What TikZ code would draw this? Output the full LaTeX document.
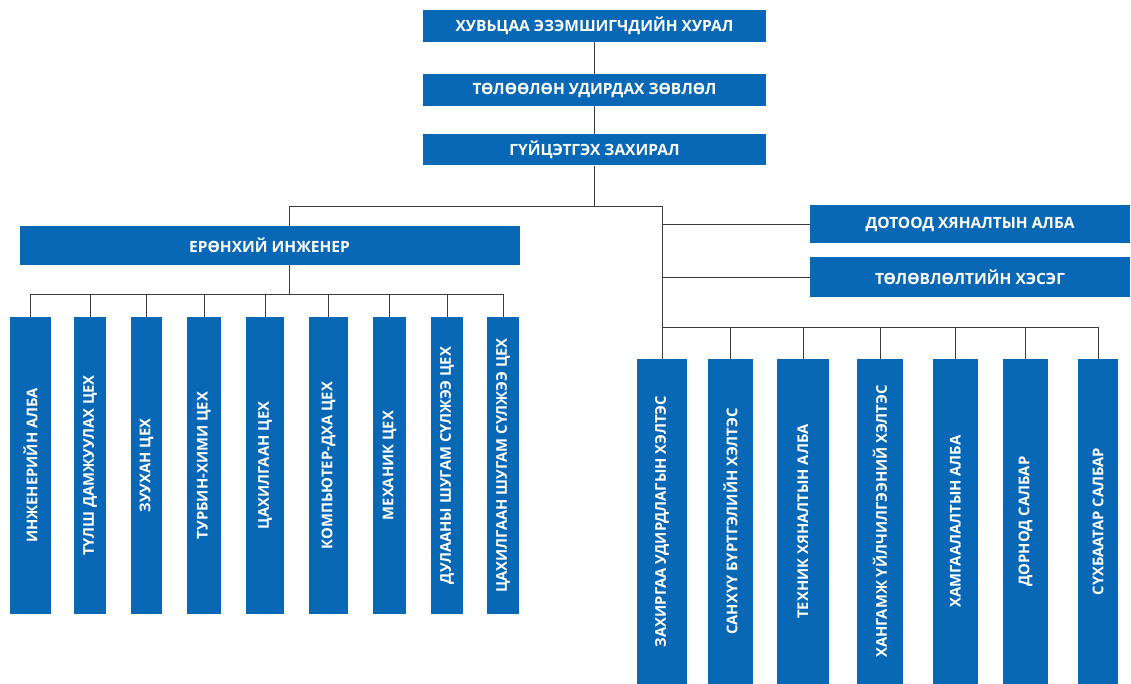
\documentclass[tikz,border=0pt]{standalone}
\usepackage{fontspec}
\setmainfont{Open Sans}
\usepackage{tikz}
\usetikzlibrary{calc}
\definecolor{orgblue}{RGB}{8,104,182}
\definecolor{orgline}{RGB}{60,60,60}

\begin{document}
\begin{tikzpicture}[
  x=1pt, y=-1pt,
  box/.style={fill=orgblue, text=white, inner sep=0pt,
    font=\fontsize{15.5}{18}\selectfont\bfseries},
  hbox/.style={box, minimum height=32pt},
  vbox/.style={box, rotate=90, font=\fontsize{14.8}{17}\selectfont\bfseries},
  lft/.style={vbox, minimum width=297pt},
  rgt/.style={vbox, minimum width=325pt},
  lnk/.style={draw=orgline, line width=0.9pt},
]
\useasboundingbox (0,0) rectangle (1131,684);
% top of the chart
\node[hbox, minimum width=343pt] (meeting) at (594.5,26) {ХУВЬЦАА ЭЗЭМШИГЧДИЙН ХУРАЛ};
\node[hbox, minimum width=343pt] (board) at (594.5,90) {ТӨЛӨӨЛӨН УДИРДАХ ЗӨВЛӨЛ};
\node[hbox, minimum width=343pt, minimum height=31pt] (ceo) at (594.5,150) {ГҮЙЦЭТГЭХ ЗАХИРАЛ};
\coordinate (split) at (594.5,206);
\draw[lnk] (meeting) -- (board);
\draw[lnk] (board) -- (ceo);
\draw[lnk] (ceo) -- (split);

% engineer branch
\node[box, minimum width=500pt, minimum height=39pt] (eng) at (269.5,245.5) {ЕРӨНХИЙ ИНЖЕНЕР};
\node[lft, minimum height=41pt] (inzh) at (30.5,465.5) {ИНЖЕНЕРИЙН АЛБА};
\node[lft, minimum height=32pt] (tulsh) at (90,465.5) {ТҮЛШ ДАМЖУУЛАХ ЦЕХ};
\node[lft, minimum height=31pt] (zuukh) at (146.5,465.5) {ЗУУХАН ЦЕХ};
\node[lft, minimum height=34pt] (turb) at (204,465.5) {ТУРБИН-ХИМИ ЦЕХ};
\node[lft, minimum height=38pt] (tsakh) at (265,465.5) {ЦАХИЛГААН ЦЕХ};
\node[lft, minimum height=39pt] (komp) at (328.5,465.5) {КОМПЬЮТЕР-ДХА ЦЕХ};
\node[lft, minimum height=33pt] (mekh) at (389.5,465.5) {МЕХАНИК ЦЕХ};
\node[lft, minimum height=32pt] (dulaan) at (447,465.5) {ДУЛААНЫ ШУГАМ СҮЛЖЭЭ ЦЕХ};
\node[lft, minimum height=32pt] (shugam) at (503,465.5) {ЦАХИЛГААН ШУГАМ СҮЛЖЭЭ ЦЕХ};
\coordinate (lbus) at (289,294);
\draw[lnk] ([xshift=19.5pt]eng.north) |- (split);
\draw[lnk] ([xshift=19.5pt]eng.south) -- (lbus);
\draw[lnk] (inzh.east) |- (shugam.east |- lbus) -- (shugam.east);
\draw[lnk] (tulsh.east) -- (tulsh.east |- lbus);
\draw[lnk] (zuukh.east) -- (zuukh.east |- lbus);
\draw[lnk] (turb.east) -- (turb.east |- lbus);
\draw[lnk] (tsakh.east) -- (tsakh.east |- lbus);
\draw[lnk] (komp.east) -- (komp.east |- lbus);
\draw[lnk] (mekh.east) -- (mekh.east |- lbus);
\draw[lnk] (dulaan.east) -- (dulaan.east |- lbus);

% staff and departments
\node[box, minimum width=320pt, minimum height=38pt] (audit) at (970,224) {ДОТООД ХЯНАЛТЫН АЛБА};
\node[box, minimum width=320pt, minimum height=40pt] (plan) at (970,277) {ТӨЛӨВЛӨЛТИЙН ХЭСЭГ};
\node[rgt, minimum height=50pt] (zakh) at (662,521.5) {ЗАХИРГАА УДИРДЛАГЫН ХЭЛТЭС};
\node[rgt, minimum height=45pt] (sankh) at (730.5,521.5) {САНХҮҮ БҮРТГЭЛИЙН ХЭЛТЭС};
\node[rgt, minimum height=52pt] (tekh) at (803,521.5) {ТЕХНИК ХЯНАЛТЫН АЛБА};
\node[rgt, minimum height=46pt] (khang) at (880,521.5) {ХАНГАМЖ ҮЙЛЧИЛГЭЭНИЙ ХЭЛТЭС};
\node[rgt, minimum height=45pt] (khamg) at (955.5,521.5) {ХАМГААЛАЛТЫН АЛБА};
\node[rgt, minimum height=45pt] (dorn) at (1025.5,521.5) {ДОРНОД САЛБАР};
\node[rgt, minimum height=40pt] (sukh) at (1098,521.5) {СҮХБААТАР САЛБАР};
\coordinate (rbus) at (662,327);
\draw[lnk] (split) -| (rbus);
\draw[lnk] (audit.west) -- (audit.west -| rbus);
\draw[lnk] (plan.west) -- (plan.west -| rbus);
\draw[lnk] (zakh.east) |- (sukh.east |- rbus) -- (sukh.east);
\draw[lnk] (sankh.east) -- (sankh.east |- rbus);
\draw[lnk] (tekh.east) -- (tekh.east |- rbus);
\draw[lnk] (khang.east) -- (khang.east |- rbus);
\draw[lnk] (khamg.east) -- (khamg.east |- rbus);
\draw[lnk] (dorn.east) -- (dorn.east |- rbus);
\end{tikzpicture}
\end{document}
